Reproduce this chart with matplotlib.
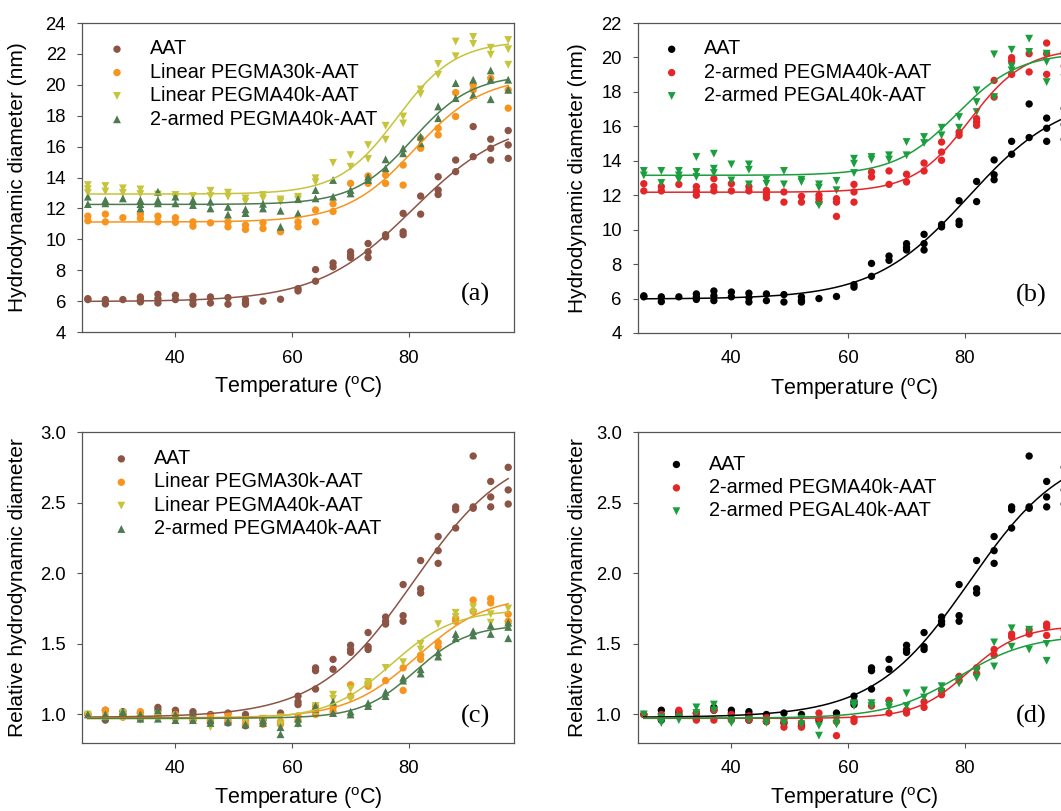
import numpy as np
import matplotlib.pyplot as plt

plt.rcParams['font.family'] = ['Liberation Sans', 'DejaVu Sans']

temps = [25, 28, 31, 34, 37, 40, 43, 46, 49, 52, 55, 58, 61,
         64, 67, 70, 73, 76, 79, 82, 85, 88, 91, 94, 97]

# hydrodynamic diameter (nm), replicate readings per temperature
aat_diam = [[6.16, 6.1], [6.1, 5.82], [6.1], [6.27, 5.95, 6.1], [6.44, 6.16, 5.88],
            [6.38, 6.1], [6.31, 6.05, 5.8], [6.27, 5.88], [6.23, 5.8], [6.1, 5.8, 5.9],
            [6.0], [6.12], [6.81, 6.66], [8.04, 7.29], [8.47, 8.22], [9.19, 8.97, 8.82],
            [9.73, 9.19, 8.82], [10.3, 10.16], [11.68, 10.49, 10.3], [12.8, 11.63],
            [14.05, 13.19, 12.9], [15.13, 14.38], [17.3, 15.35], [16.48, 15.89, 15.13],
            [17.04, 16.11, 15.24]]
peg30_diam = [[11.5, 11.2], [11.63, 11.13], [11.4], [11.63, 11.35], [11.5, 11.13],
              [11.4, 11.1], [11.13, 10.85], [11.07], [11.13, 10.81], [10.92, 10.64],
              [11.07, 10.7], [10.49], [11.13, 10.81], [11.9, 11.13], [12.3, 11.8],
              [13.62], [14.1, 13.62], [14.16, 13.62], [14.81, 13.51], [16.54, 15.89],
              [17.19, 16.76], [19.5, 17.95], [20.0, 19.67], [20.43], [19.67, 18.49]]
peg40_diam = [[13.51, 13.24, 13.01], [13.45, 13.1], [13.3, 13.0], [13.23, 12.93], [12.9],
              [12.87, 12.69], [12.8], [13.14, 12.8], [13.02, 12.76], [12.65, 12.43],
              [12.87, 12.65], [12.58, 12.43], [12.75, 12.58], [13.95, 13.7], [14.95],
              [15.45, 14.7], [16.1, 15.2], [17.35, 16.45], [17.95, 17.5], [19.7, 19.4],
              [21.35, 20.65], [22.8, 21.85], [23.1, 22.65], [22.4, 21.95], [22.9, 22.3, 21.3]]
arm2_diam = [[12.76, 12.28], [12.54, 12.33], [12.65], [12.54, 12.28, 12.0],
             [13.08, 12.54, 12.33], [12.76, 12.33], [12.54, 12.22], [12.43, 12.0],
             [12.1, 11.6], [11.94, 11.7], [12.3, 12.0], [11.85, 10.81], [12.6, 11.68],
             [13.19, 12.65], [13.84, 12.76], [13.19, 12.97], [14.05, 13.84], [15.18, 14.6],
             [15.89, 15.57], [16.65, 16.22], [18.6, 17.84], [20.11, 19.14], [20.33, 19.35],
             [20.93, 20.33, 19.07], [20.33, 19.68]]
arm2_b_diam = [[12.67, 12.25], [12.5, 12.25], [12.63], [12.5, 12.25, 12.0],
               [12.96, 12.5, 12.25], [12.67, 12.25], [12.5, 12.25], [12.28, 12.05, 11.86],
               [12.19, 11.6], [11.94, 11.6], [12.0, 11.8, 11.6], [11.8, 11.6, 10.77],
               [12.63, 12.19, 11.6], [13.35, 13.06], [13.41, 12.63], [13.22, 12.77],
               [13.87, 13.41], [15.09, 14.51, 14.03], [15.67, 15.48], [16.45, 16.25, 16.06],
               [18.67, 17.7], [19.99, 19.79, 19.02], [20.22, 19.16], [20.84, 20.22, 19.02],
               [20.3, 19.5]]
pegal_diam = [[13.41, 13.15], [13.41, 12.71], [13.41, 13.15, 12.9], [14.22, 13.35, 13.06],
              [14.41, 13.54, 13.29], [13.79, 12.86], [13.79, 13.48, 12.63], [12.9, 12.67],
              [13.41, 12.63], [12.9, 12.77], [12.63, 12.44, 11.41], [12.83, 12.29],
              [14.12, 13.83, 13.29], [14.22, 14.07], [14.32, 14.07], [15.09, 14.32],
              [15.38, 15.03], [15.92, 15.48], [16.54, 15.92], [18.09, 17.41, 16.83],
              [20.18, 17.7], [20.45, 19.48, 19.25], [21.09, 20.32], [20.22, 19.74, 18.57],
              [18.8, 20.0]]

# relative hydrodynamic diameter
aat_rel = [[1.0], [1.03, 0.96], [1.02, 1.0], [1.01, 0.97], [1.05, 1.03], [1.03, 1.01],
           [1.02, 1.0, 0.96], [1.0, 0.95], [1.01, 0.94], [1.0, 0.92], [0.96], [1.01],
           [1.13, 1.09, 1.07], [1.33, 1.31, 1.18], [1.39, 1.32], [1.49, 1.46, 1.44],
           [1.58, 1.48, 1.46], [1.69, 1.66, 1.64], [1.92, 1.70, 1.66], [2.09, 1.89, 1.86],
           [2.26, 2.16, 2.07], [2.47, 2.45, 2.32], [2.83, 2.47, 2.46], [2.65, 2.54, 2.47],
           [2.75, 2.59, 2.49]]
peg30_rel = [[1.0], [1.03, 0.98], [1.0, 0.98], [1.02, 0.99], [0.99, 0.98], [1.0, 0.97],
             [0.98, 0.96], [0.99, 0.96], [1.0, 0.96], [0.96, 0.93], [0.97, 0.93],
             [0.95, 0.93], [0.99, 0.96], [1.06, 1.0], [1.05, 1.02], [1.21, 1.13],
             [1.22, 1.2], [1.24], [1.33, 1.17], [1.42, 1.39], [1.51, 1.48], [1.68, 1.66],
             [1.81, 1.73], [1.82, 1.79], [1.71, 1.66]]
peg40_rel = [[1.0, 0.99], [0.98], [1.01, 0.99], [0.98, 0.96], [1.0, 0.97], [0.98], [0.97],
             [0.91], [0.96], [0.95], [0.97], [0.98, 0.93], [0.93], [1.06, 1.02],
             [1.14, 1.11], [1.18, 1.11], [1.23, 1.21], [1.33], [1.37], [1.5, 1.46], [1.64],
             [1.72, 1.69], [1.76, 1.72], [1.71, 1.65], [1.75, 1.62]]
arm2_rel = [[1.0], [1.0, 0.98], [1.02, 1.0], [1.0, 0.97], [1.03, 0.97], [1.0, 0.96],
            [1.0, 0.96], [0.96, 0.94], [0.95], [0.93], [0.96, 0.94], [0.91, 0.86],
            [0.97, 0.94], [1.06, 1.04], [1.09, 1.01], [1.02, 1.0], [1.08, 1.06],
            [1.16, 1.13], [1.26, 1.24], [1.32, 1.29], [1.44, 1.41], [1.57, 1.54],
            [1.59, 1.56], [1.63, 1.57], [1.65, 1.62, 1.54]]
arm2_d_rel = [[1.0], [1.0, 0.97], [1.03, 0.99], [1.01, 0.96], [1.03, 0.96], [1.0, 0.96],
              [0.99, 0.96], [0.98, 0.95], [0.95, 0.91], [0.94, 0.91], [1.01, 0.97],
              [0.95, 0.85], [0.97, 0.95], [1.06], [1.1, 1.01], [1.03, 1.01], [1.09, 1.05],
              [1.17, 1.14], [1.27, 1.24], [1.33, 1.29], [1.46, 1.42], [1.57, 1.55],
              [1.6, 1.57], [1.64, 1.62, 1.56], [1.6, 1.55]]
pegal_rel = [[1.0], [0.98, 0.94], [0.98, 0.96], [1.05, 1.01], [1.07, 1.03], [0.97, 0.94],
             [0.96], [0.94], [0.94], [0.97, 0.93], [0.92, 0.85], [0.96, 0.93], [1.08, 1.06],
             [1.08, 1.06], [1.07, 1.05], [1.15, 1.06], [1.17, 1.12], [1.2, 1.16],
             [1.25, 1.22], [1.31, 1.26], [1.51, 1.34], [1.61, 1.48], [1.6, 1.46],
             [1.5, 1.38], [1.52]]

c_brown, c_orange, c_olive, c_dgreen = '#8c5444', '#f7941e', '#c5c43a', '#4b7b4f'
c_black, c_red, c_green = 'black', '#e52629', '#1b9e3e'


def flatten(reps):
    x = np.repeat(temps, [len(r) for r in reps]).astype(float)
    y = np.array([v for r in reps for v in r])
    return x, y


def sigmoid_fit(x, y):
    # least-squares sigmoid: y = lo + (hi-lo)/(1+exp((x0-x)/dx)), grid over x0, dx
    x0s, dxs = np.meshgrid(np.arange(55, 115, 0.2), np.arange(1.0, 20, 0.1))
    x0s, dxs = x0s.ravel(), dxs.ravel()
    s = 1 / (1 + np.exp((x0s[:, None] - x[None, :]) / dxs[:, None]))
    sm, ym = s.mean(axis=1), y.mean()
    cov = ((s - sm[:, None]) * (y - ym)).mean(axis=1)
    var = s.var(axis=1)
    sse = -cov ** 2 / var
    i = np.argmin(sse)
    b = cov[i] / var[i]
    a = ym - b * sm[i]
    return a, b, x0s[i], dxs[i]


panels = [
    dict(pos=[0.0773, 0.5906, 0.4072, 0.381], ylim=(4, 24), yticks=np.arange(4, 25, 2),
         ylabel='Hydrodynamic diameter (nm)', letter='(a)', fmt='%d', leg=(0.058, 0.947),
         series=[(aat_diam, 'AAT', c_brown, 'o'),
                 (peg30_diam, 'Linear PEGMA30k-AAT', c_orange, 'o'),
                 (peg40_diam, 'Linear PEGMA40k-AAT', c_olive, 'v'),
                 (arm2_diam, '2-armed PEGMA40k-AAT', c_dgreen, '^')]),
    dict(pos=[0.6013, 0.5894, 0.4072, 0.3822], ylim=(4, 22), yticks=np.arange(4, 23, 2),
         ylabel='Hydrodynamic diameter (nm)', letter='(b)', fmt='%d', leg=(0.055, 0.947),
         series=[(aat_diam, 'AAT', c_black, 'o'),
                 (arm2_b_diam, '2-armed PEGMA40k-AAT', c_red, 'o'),
                 (pegal_diam, '2-armed PEGAL40k-AAT', c_green, 'v')]),
    dict(pos=[0.0773, 0.0842, 0.4072, 0.3831], ylim=(0.8, 3.0), yticks=np.arange(1.0, 3.01, 0.5),
         ylabel='Relative hydrodynamic diameter', letter='(c)', fmt='%.1f', leg=(0.068, 0.945),
         series=[(aat_rel, 'AAT', c_brown, 'o'),
                 (peg30_rel, 'Linear PEGMA30k-AAT', c_orange, 'o'),
                 (peg40_rel, 'Linear PEGMA40k-AAT', c_olive, 'v'),
                 (arm2_rel, '2-armed PEGMA40k-AAT', c_dgreen, '^')]),
    dict(pos=[0.6013, 0.0842, 0.4072, 0.3831], ylim=(0.8, 3.0), yticks=np.arange(1.0, 3.01, 0.5),
         ylabel='Relative hydrodynamic diameter', letter='(d)', fmt='%.1f', leg=(0.066, 0.927),
         series=[(aat_rel, 'AAT', c_black, 'o'),
                 (arm2_d_rel, '2-armed PEGMA40k-AAT', c_red, 'o'),
                 (pegal_rel, '2-armed PEGAL40k-AAT', c_green, 'v')]),
]

fig = plt.figure(figsize=(10.61, 8.11), dpi=100)
tt = np.linspace(25, 97, 300)
spine_col = '#555555'

for p in panels:
    ax = fig.add_axes(p['pos'])
    left = p['pos'][0] < 0.5
    top = p['pos'][1] > 0.5
    for reps, label, col, mk in p['series']:
        x, y = flatten(reps)
        ax.scatter(x, y, s=28 if mk == 'o' else 32, marker=mk, color=col,
                   edgecolors='none', label=label, zorder=2)
        a, b, x0, dx = sigmoid_fit(x, y)
        ax.plot(tt, a + b / (1 + np.exp((x0 - tt) / dx)), color=col, lw=1.1, zorder=3)
    ax.set_xlim(24, 98)
    ax.set_ylim(*p['ylim'])
    ax.set_xticks([40, 60, 80])
    ax.set_yticks(p['yticks'])
    ax.yaxis.set_major_formatter(plt.FormatStrFormatter(p['fmt']))
    ax.tick_params(direction='out', length=3.6, width=0.8, color=spine_col, labelsize=13.3)
    ax.tick_params(axis='x', pad=9)
    ax.tick_params(axis='y', pad=8)
    for sp in ax.spines.values():
        sp.set_color(spine_col)
        sp.set_linewidth(0.9)
    ax.set_xlabel('Temperature ($\\mathregular{^{o}}$C)', fontsize=15.5)
    ax.xaxis.set_label_coords(0.5, -0.138 if top else -0.138)
    ax.set_ylabel(p['ylabel'], fontsize=15)
    ax.yaxis.set_label_coords(-0.127 if left else -0.118, 0.5)
    ax.text(0.91, 0.12 if top else 0.085, p['letter'],
            transform=ax.transAxes, ha='center', va='center', fontsize=19,
            family='Liberation Serif')
    ax.legend(loc='upper left', bbox_to_anchor=p['leg'], frameon=False, fontsize=14.3,
              handlelength=1.0, handletextpad=1.15, labelspacing=0.22,
              borderpad=0, borderaxespad=0, scatterpoints=1)

fig.savefig('out.png', dpi=100)
